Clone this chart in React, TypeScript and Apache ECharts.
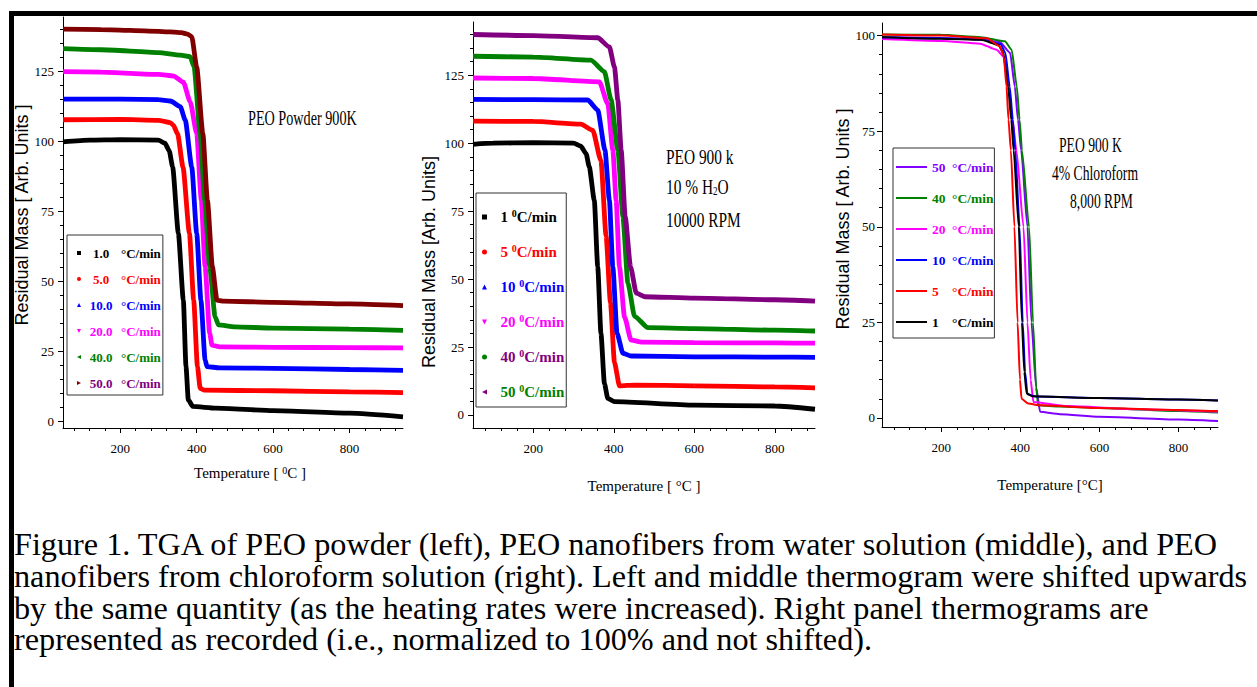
import React, { useEffect, useRef } from "react";
import * as echarts from "echarts";

// ---------- Panel 1: PEO Powder 900K (shifted thermograms) ----------
const p1Rate1 = [[50, 99.7], [120, 100.3], [200, 100.5], [300, 100.3], [317, 99.2], [328, 96.5], [337, 90.8], [352, 67], [365, 43.2], [372, 19.4], [378, 7.5], [390, 5.2], [450, 4.6], [600, 3.7], [800, 2.8], [940, 1.5]];
const p1Rate5 = [[50, 107.6], [200, 107.7], [300, 107.4], [330, 106.6], [339, 105.7], [350, 102.5], [364, 90.8], [381, 67], [392, 43.2], [402, 19.4], [409, 11.7], [420, 11], [600, 10.8], [800, 10.4], [940, 10.1]];
const p1Rate10 = [[50, 115], [200, 115], [300, 114.8], [331, 114.3], [357, 112.3], [370, 107.5], [387, 90.8], [400, 67], [411, 43.2], [422, 21.8], [427, 19.4], [460, 19], [600, 18.8], [800, 18.4], [940, 18.1]];
const p1Rate20 = [[50, 124.8], [150, 124.6], [300, 123.8], [340, 123.2], [365, 121], [383, 114], [400, 102.7], [412, 78.9], [422, 55.1], [434, 31.3], [440, 27.1], [460, 26.5], [600, 26.3], [800, 26.2], [940, 26.1]];
const p1Rate40 = [[50, 133], [150, 132.6], [300, 131.6], [357, 130.7], [383, 130.1], [393, 126.5], [409, 102.7], [421, 78.9], [434, 55.1], [448, 37.3], [457, 34.3], [500, 33.6], [600, 33.2], [800, 32.8], [940, 32.4]];
const p1Rate50 = [[50, 140], [150, 139.8], [300, 139.2], [360, 138.7], [376, 138.2], [387, 137.3], [400, 126.5], [416, 102.7], [428, 78.9], [441, 55.1], [453, 43.2], [470, 42.8], [600, 42.4], [800, 41.8], [940, 41.2]];

// ---------- Panel 2: PEO 900 k, 10 % H2O, 10000 RPM ----------
const p2Rate1 = [[50, 99.6], [100, 100], [200, 100.2], [300, 100], [318, 98.9], [331, 96.2], [339, 91.3], [351.5, 79], [360, 54.5], [368, 30], [376.6, 11.6], [385, 6.1], [401.6, 4.9], [600, 3.6], [800, 3.3], [900, 2.1]];
const p2Rate5 = [[50, 108.1], [200, 108], [318, 107], [347.5, 104.8], [368, 93.6], [380.8, 65.8], [391.6, 41.3], [401.6, 19.3], [414, 10.7], [451.6, 11], [600, 10.7], [800, 10.3], [900, 10]];
const p2Rate10 = [[50, 116.1], [200, 116], [335, 115.9], [360, 112.2], [378, 97.5], [389, 79], [397.5, 54.5], [408, 30], [422.5, 22.7], [443, 21.7], [600, 21.4], [800, 21.3], [900, 21.2]];
const p2Rate20 = [[50, 124], [200, 123.8], [364, 122.6], [385, 114.5], [397.5, 97.5], [405.8, 79], [414, 54.5], [426.6, 36], [443, 27.5], [470, 26.8], [600, 26.6], [800, 26.5], [900, 26.4]];
const p2Rate40 = [[50, 132], [200, 131.7], [343, 130.6], [376.6, 126.3], [393.3, 115.9], [410, 97.5], [422.5, 73], [435, 48.5], [451.5, 36.3], [485, 32.1], [600, 31.8], [800, 31.2], [900, 30.9]];
const p2Rate50 = [[50, 140], [200, 139.6], [360, 138.8], [389, 135.4], [401.6, 128], [410, 115.9], [418.3, 97.5], [428.3, 73], [441.6, 54.5], [455.8, 44.8], [476.6, 43.5], [600, 43], [800, 42.4], [900, 41.9]];

// ---------- Panel 3: PEO 900 K, 4% Chloroform, 8,000 RPM ----------
const p3Rate50 = [[50, 99.6], [200, 99.4], [300, 99], [348, 98.3], [374, 95.5], [386, 86.7], [394, 78], [402, 70], [418, 50], [428, 25], [440, 8], [450, 1.6], [500, 1], [600, 0.3], [800, -0.4], [900, -0.8]];
const p3Rate40 = [[50, 100.3], [200, 100.2], [300, 99.6], [361, 98.5], [378, 96.3], [391, 86.7], [398, 78], [404, 70], [422, 50], [432, 25], [440, 8], [445, 3.3], [500, 3], [600, 2.6], [800, 1.8], [900, 1.4]];
const p3Rate20 = [[50, 99.1], [200, 98.6], [298, 97.9], [340, 96.3], [357, 94.6], [369, 86.7], [380, 78], [390, 70], [408, 50], [418, 25], [426, 10], [433, 4.2], [517, 3.1], [700, 2.3], [900, 1.6]];
const p3Rate10 = [[50, 99.6], [200, 99.3], [300, 99], [350, 97.8], [362, 95.5], [373, 86.7], [381, 78], [387, 70], [398, 50], [406, 25], [412, 12], [418, 6.2], [440, 5.6], [600, 5.2], [800, 4.8], [900, 4.6]];
const p3Rate5 = [[50, 100.3], [200, 100], [315, 99.3], [348, 97.2], [358, 94.6], [365, 86.7], [370, 78], [376, 70], [385, 50], [393, 25], [399, 10], [403, 5], [420, 3.8], [450, 3.3], [600, 2.6], [800, 2.1], [900, 1.8]];
const p3Rate1 = [[50, 99.6], [200, 99.2], [300, 98.9], [344, 97.6], [357, 95.5], [369, 86.7], [377, 78], [383, 70], [396, 50], [404, 25], [410, 12], [416, 6.4], [430, 5.7], [600, 5.2], [800, 4.8], [900, 4.6]];

// ---------- labels, colours, ticks ----------
const p1Labels = ["1.0", "5.0", "10.0", "20.0", "40.0", "50.0"];
const p1Colors = ["#000000", "#ff0000", "#0000ff", "#ff00ff", "#008000", "#800000"];
const p1TextColors = ["#000000", "#ff0000", "#0000ff", "#ff00ff", "#008000", "#800080"];
const p2Labels = ["1", "5", "10", "20", "40", "50"];
const p2Colors = ["#000000", "#ff0000", "#0000ff", "#ff00ff", "#008000", "#800080"];
const p2TextColors = ["#000000", "#ff0000", "#0000ff", "#ff00ff", "#800080", "#008000"];
const p3Labels = ["1", "5", "10", "20", "40", "50"];
const p3Colors = ["#000000", "#ff0000", "#0000ff", "#ff00ff", "#008000", "#8000ff"];

const xMajorTicks = [200, 400, 600, 800];
const xMinorTicks940 = [80, 120, 160, 200, 240, 280, 320, 360, 400, 440, 480, 520, 560, 600, 640, 680, 720, 760, 800, 840, 880, 920];
const xMinorTicks900 = [80, 120, 160, 200, 240, 280, 320, 360, 400, 440, 480, 520, 560, 600, 640, 680, 720, 760, 800, 840, 880];
const yMajor125 = [0, 25, 50, 75, 100, 125];
const yMajor100 = [0, 25, 50, 75, 100];
const yMinor140 = [0, 5, 10, 15, 20, 25, 30, 35, 40, 45, 50, 55, 60, 65, 70, 75, 80, 85, 90, 95, 100, 105, 110, 115, 120, 125, 130, 135, 140];
const yMinor100 = [0, 5, 10, 15, 20, 25, 30, 35, 40, 45, 50, 55, 60, 65, 70, 75, 80, 85, 90, 95, 100];

const captionLines = [
  "Figure 1. TGA of PEO powder (left), PEO nanofibers from water solution (middle), and PEO",
  "nanofibers from chloroform solution (right). Left and middle thermogram were shifted upwards",
  "by the same quantity (as the heating rates were increased). Right panel thermograms are",
  "represented as recorded (i.e., normalized to 100% and not shifted).",
];

const SERIF = "'Liberation Serif', 'Times New Roman', serif";
const SANS = "'Liberation Sans', Arial, sans-serif";

const ICON_SQUARE = "path://M0,0H1V1H0Z";
const ICON_CIRCLE = "path://M1,0.5A0.5,0.5,0,1,1,0,0.5A0.5,0.5,0,1,1,1,0.5Z";
const ICON_UP = "path://M0.5,0L1,1H0Z";
const ICON_DOWN = "path://M0,0H1L0.5,1Z";
const ICON_LEFT = "path://M1,0V1L0,0.5Z";
const ICON_RIGHT = "path://M0,0L1,0.5L0,1Z";

function mainX(grid: number, min: number, max: number, name: string, nameGap: number, pad: number[], rich?: any) {
  return {
    type: "value", gridIndex: grid, position: "bottom", min, max,
    axisLine: { show: true, onZero: false, lineStyle: { color: "#000", width: 1 } },
    axisTick: { show: true, length: 5, customValues: xMajorTicks, lineStyle: { color: "#000" } },
    axisLabel: { show: true, customValues: xMajorTicks, margin: 14, fontFamily: SERIF, fontSize: 13, color: "#000" },
    splitLine: { show: false },
    name, nameLocation: "middle", nameGap,
    nameTextStyle: { fontFamily: SERIF, fontSize: 15, color: "#000", padding: pad, rich },
  };
}
function minorX(grid: number, min: number, max: number, ticks: number[]) {
  return {
    type: "value", gridIndex: grid, position: "bottom", min, max,
    axisLine: { show: false, onZero: false },
    axisTick: { show: true, length: 3, customValues: ticks, lineStyle: { color: "#000" } },
    axisLabel: { show: false }, splitLine: { show: false },
  };
}
function mainY(grid: number, min: number, max: number, ticks: number[], name: string, nameGap: number, pad: number[], margin: number) {
  return {
    type: "value", gridIndex: grid, position: "left", min, max,
    axisLine: { show: true, onZero: false, lineStyle: { color: "#000", width: 1 } },
    axisTick: { show: true, length: 5, customValues: ticks, lineStyle: { color: "#000" } },
    axisLabel: { show: true, customValues: ticks, margin, fontFamily: SERIF, fontSize: 13, color: "#000" },
    splitLine: { show: false },
    name, nameLocation: "middle", nameGap,
    nameTextStyle: { fontFamily: SANS, fontSize: 18, color: "#000", padding: pad },
  };
}
function minorY(grid: number, min: number, max: number, ticks: number[]) {
  return {
    type: "value", gridIndex: grid, position: "left", min, max,
    axisLine: { show: false, onZero: false },
    axisTick: { show: true, length: 3, customValues: ticks, lineStyle: { color: "#000" } },
    axisLabel: { show: false }, splitLine: { show: false },
  };
}
function line(name: string, data: number[][], color: string, width: number, axis: number) {
  return {
    type: "line", name, data, xAxisIndex: axis, yAxisIndex: axis,
    showSymbol: false, symbol: "none", smooth: 0.2, smoothMonotone: "x",
    color, lineStyle: { color, width }, itemStyle: { color }, clip: false, silent: true,
  };
}

const p1Data = [p1Rate1, p1Rate5, p1Rate10, p1Rate20, p1Rate40, p1Rate50];
const p2Data = [p2Rate1, p2Rate5, p2Rate10, p2Rate20, p2Rate40, p2Rate50];
const p3Data = [p3Rate1, p3Rate5, p3Rate10, p3Rate20, p3Rate40, p3Rate50];

function buildOption() {
  const p1Names = p1Labels.map((l) => "A " + l);
  const p2Names = p2Labels.map((l) => "B " + l);
  const p3Names = p3Labels.map((l) => "C " + l);
  const series: any[] = [];
  p1Data.forEach((d, i) => series.push(line(p1Names[i], d, p1Colors[i], 4.8, 0)));
  p2Data.forEach((d, i) => series.push(line(p2Names[i], d, p2Colors[i], 4.8, 2)));
  // panel 3: draw blue under black
  const p3Order = [5, 4, 3, 2, 0, 1];
  p3Order.forEach((i) => series.push(line(p3Names[i], p3Data[i], p3Colors[i], 2, 4)));

  const p1Icons = [ICON_SQUARE, ICON_CIRCLE, ICON_UP, ICON_DOWN, ICON_LEFT, ICON_RIGHT];
  const p2Icons = [ICON_SQUARE, ICON_CIRCLE, ICON_UP, ICON_DOWN, ICON_CIRCLE, ICON_LEFT];

  const b13s = { fontFamily: SERIF, fontWeight: "bold", fontSize: 13, lineHeight: 14 };
  const b15 = { fontFamily: SERIF, fontWeight: "bold", fontSize: 15, lineHeight: 18 };
  const b13 = { fontFamily: SERIF, fontWeight: "bold", fontSize: 13.5, lineHeight: 16 };

  const legends = [
    {
      left: 67, top: 235, orient: "vertical", padding: [11, 2, 5, 10], itemGap: 12,
      itemWidth: 10, itemHeight: 4, borderColor: "#333", borderWidth: 1, selectedMode: false,
      itemStyle: { borderWidth: 0 },
      textStyle: { ...b13s, rich: { n: { ...b13s, width: 24, align: "right" }, u: { ...b13s, padding: [0, 0, 0, 8] } } },
      formatter: (name: string) => `{n|${p1Labels[p1Names.indexOf(name)]}}{u|°C/min}`,
      data: p1Names.map((n, i) => ({ name: n, icon: p1Icons[i], textStyle: { color: p1TextColors[i] } })),
    },
    {
      left: 476, top: 193, orient: "vertical", padding: [15, 2, 6, 6], itemGap: 17,
      itemWidth: 22, itemHeight: 5, borderColor: "#333", borderWidth: 1, selectedMode: false,
      itemStyle: { borderWidth: 0 },
      textStyle: {
        ...b15,
        rich: { n: { ...b15 }, s: { fontFamily: SERIF, fontWeight: "bold", fontSize: 10, lineHeight: 10, verticalAlign: "top" }, u: { ...b15 } },
      },
      formatter: (name: string) => `{n|${p2Labels[p2Names.indexOf(name)]} }{s|0}{u|C/min}`,
      data: p2Names.map((n, i) => ({ name: n, icon: p2Icons[i], textStyle: { color: p2TextColors[i] } })),
    },
    {
      left: 893, top: 148, orient: "vertical", padding: [11, 1, 8, 3], itemGap: 15,
      itemWidth: 31, itemHeight: 2, borderColor: "#333", borderWidth: 1, selectedMode: false,
      itemStyle: { borderWidth: 0 },
      textStyle: { ...b13, rich: { n: { ...b13, width: 16 }, u: { ...b13, padding: [0, 0, 0, 4] } } },
      formatter: (name: string) => `{n|${p3Labels[p3Names.indexOf(name)]}}{u|°C/min}`,
      data: [5, 4, 3, 2, 1, 0].map((i) => ({ name: p3Names[i], icon: "rect", textStyle: { color: p3Colors[i] } })),
    },
  ];

  const supRich = { sup: { fontFamily: SERIF, fontSize: 10, verticalAlign: "top", lineHeight: 10 } };

  const annot = (text: string, x: number, y: number, size: number, sx: number, rich?: any) => ({
    type: "text", x, y, scaleX: sx, silent: true,
    style: { text, fontFamily: SERIF, fontSize: size, fill: "#000", align: "left", verticalAlign: "middle", rich },
  });

  const graphic: any[] = [
    { type: "rect", shape: { x: 9, y: 11, width: 1248, height: 5 }, style: { fill: "#000" }, silent: true },
    { type: "rect", shape: { x: 9, y: 11, width: 5, height: 676 }, style: { fill: "#000" }, silent: true },
    annot("PEO Powder 900K", 248, 119, 20, 0.71),
    annot("PEO 900 k", 666, 156, 22, 0.7),
    annot("10 % H{sub|2}O", 666, 186, 22, 0.7, { sub: { fontFamily: SERIF, fontSize: 13, verticalAlign: "bottom", lineHeight: 13 } }),
    annot("10000 RPM", 666, 219, 22, 0.7),
    annot("PEO 900 K", 1059, 145, 21, 0.65),
    annot("4% Chloroform", 1052, 173, 21, 0.65),
    annot("8,000 RPM", 1070, 201, 21, 0.65),
    ...captionLines.map((t, i) => ({
      type: "text", x: 14, y: 545 + 31.7 * i, scaleX: 1.04, silent: true,
      style: { text: t, fontFamily: SERIF, fontSize: 31, lineHeight: 31, fill: "#000", align: "left", verticalAlign: "middle" },
    })),
  ];

  return {
    animation: false,
    backgroundColor: "#ffffff",
    grid: [
      { left: 63, top: 17, width: 340, height: 411 },
      { left: 473, top: 22, width: 342, height: 406 },
      { left: 882, top: 23, width: 336, height: 404 },
    ],
    xAxis: [
      mainX(0, 50, 940, "Temperature [ {sup|0}C ]", 37, [0, 0, 0, 34], supRich),
      minorX(0, 50, 940, xMinorTicks940),
      mainX(1, 50, 900, "Temperature [ °C ]", 50, [0, 0, 0, 0]),
      minorX(1, 50, 900, xMinorTicks900),
      mainX(2, 50, 900, "Temperature [°C]", 50, [0, 0, 0, 0]),
      minorX(2, 50, 900, xMinorTicks900),
    ],
    yAxis: [
      mainY(0, -2.5, 144.3, yMajor125, "Residual Mass [ Arb. Units ]", 30, [0, 0, 0, 15], 9),
      minorY(0, -2.5, 144.3, yMinor140),
      mainY(1, -4.8, 144.6, yMajor125, "Residual Mass [Arb. Units]", 35, [0, 74, 0, 0], 9),
      minorY(1, -4.8, 144.6, yMinor140),
      mainY(2, -2.36, 103.3, yMajor100, "Residual Mass [ Arb. Units ]", 29, [0, 0, 0, 12], 7),
      minorY(2, -2.36, 103.3, yMinor100),
    ],
    legend: legends,
    series,
    graphic,
  };
}

export default function App() {
  const ref = useRef<HTMLDivElement>(null);
  useEffect(() => {
    if (!ref.current) return;
    const chart = echarts.init(ref.current, null, { renderer: "svg" });
    chart.setOption(buildOption() as any);
    return () => chart.dispose();
  }, []);
  return (
    <div
      ref={ref}
      style={{ position: "fixed", left: 0, top: 0, width: 1257, height: 687, background: "#fff" }}
    />
  );
}
